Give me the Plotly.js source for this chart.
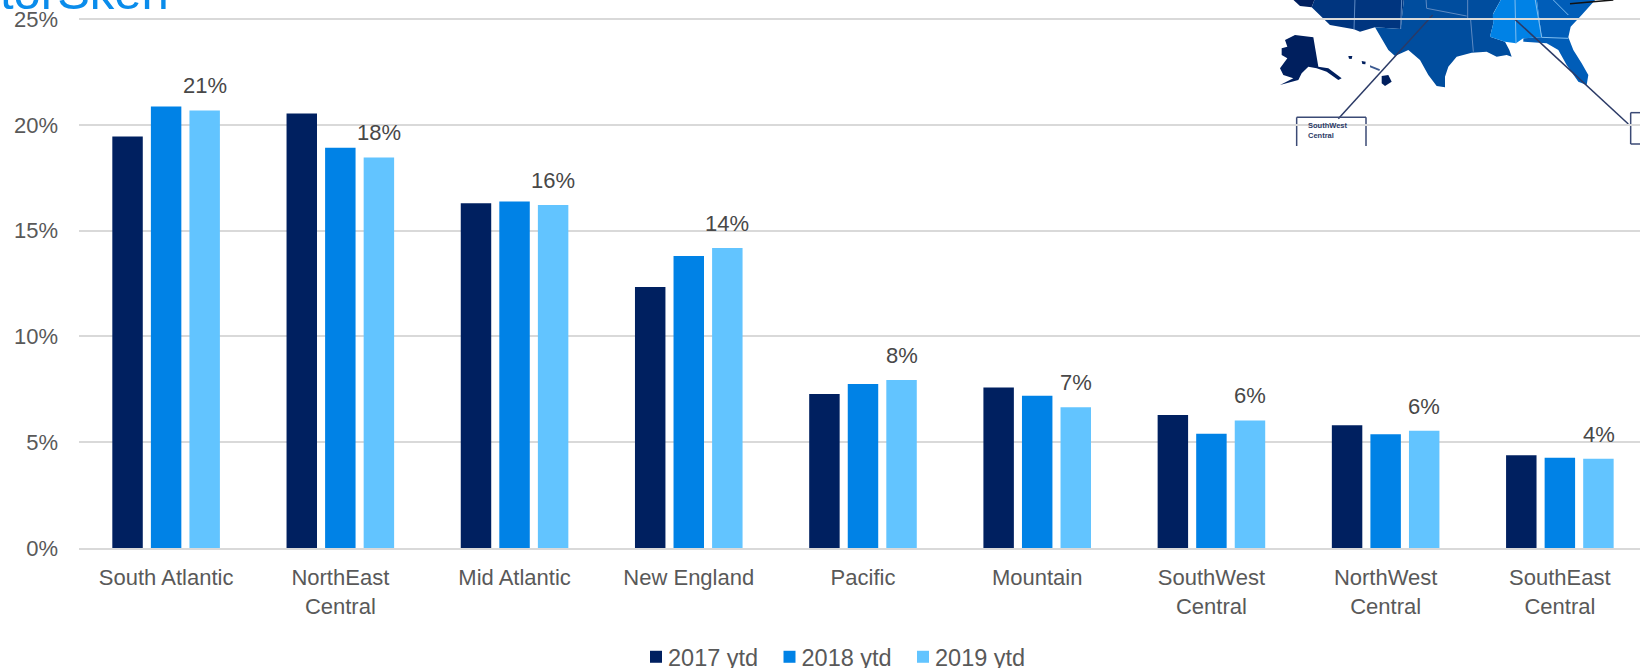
<!DOCTYPE html>
<html><head><meta charset="utf-8">
<script src="https://cdn.plot.ly/plotly-3.0.1.min.js"></script>
<style>html,body{margin:0;padding:0;background:#fff;overflow:hidden}</style></head>
<body><div id="chart" style="width:1640px;height:668px"></div>
<script>
const categories = ["South Atlantic","NorthEast<br>Central","Mid Atlantic","New England","Pacific","Mountain","SouthWest<br>Central","NorthWest<br>Central","SouthEast<br>Central"];
const ytd2017 = [19.45,20.54,16.29,12.33,7.28,7.59,6.29,5.80,4.38];
const ytd2018 = [20.86,18.92,16.38,13.80,7.75,7.20,5.40,5.37,4.27];
const ytd2019 = [20.68,18.46,16.21,14.18,7.94,6.65,6.02,5.54,4.22];
const seriesNames = ["2017 ytd","2018 ytd","2019 ytd"];
const seriesColors = ["#002060","#0082E6","#62C4FF"];
const yTicks = [0,5,10,15,20,25];

const W = 1640, H = 668, L = 79, T = 17, B = 120;
const PW = W - L, PH = H - T - B;
const FONT = "'Liberation Sans', Arial, sans-serif";
const px = x => (x - L) / PW, py = y => 1 - (y - T) / PH;
// Decorative inset map: outline points are in zoom units of the inset crop (origin x=1280, 3x).
const poly = (pts, color) => ({type:"path", xref:"paper", yref:"paper", layer:"below", fillcolor:color, line:{width:0},
  path:"M" + pts.map(p => px(1280 + p[0]/3) + "," + py(p[1]/3)).join("L") + "Z"});
const seg = (a, b, color, w) => ({type:"line", xref:"paper", yref:"paper", layer:"below", line:{color:color, width:w},
  x0:px(1280+a[0]/3), y0:py(a[1]/3), x1:px(1280+b[0]/3), y1:py(b[1]/3)});
const mapShapes = [
  poly([[35,-5],[105,-5],[95,22],[60,18]], "#001F5E"),
  poly([[105,-5],[372,-5],[362,87],[285,82],[240,95],[222,88],[150,75],[95,22]], "#00357F"),
  poly([[372,-5],[665,-5],[640,40],[640,70],[630,110],[675,125],[688,150],[695,170],[680,165],[650,170],[620,155],[575,158],[530,170],[505,200],[495,230],[495,262],[470,258],[445,225],[420,180],[385,150],[345,168],[325,150],[285,82],[362,87]], "#004D9E"),
  poly([[665,-5],[770,-5],[785,112],[730,115],[708,130],[675,125],[630,110],[640,70],[638,45]], "#0082E6"),
  poly([[770,-5],[950,-5],[905,45],[872,80],[865,112],[880,150],[905,190],[925,225],[920,255],[895,245],[860,195],[835,150],[800,130],[730,125],[730,115],[785,112]], "#005DB8"),
  poly([[15,120],[45,105],[100,112],[115,200],[145,205],[185,235],[175,240],[140,215],[110,205],[85,200],[65,220],[55,240],[0,255],[40,235],[10,225],[0,205],[22,175],[5,165],[5,145],[22,140]], "#001F5E"),
  poly([[305,228],[325,225],[335,245],[315,258],[305,250]], "#001F5E"),
  poly([[205,168],[217,168],[215,177],[207,176]], "#001F5E"),
  poly([[245,183],[257,185],[256,193],[247,192]], "#001F5E"),
  poly([[270,196],[300,208],[298,213],[270,202]], "#3C5A90"),
  seg([225,-5],[222,88],"#5E8AC2",1), seg([365,-5],[362,87],"#5E8AC2",1),
  seg([572,60],[580,155],"#5E8AC2",1), seg([438,-5],[440,25],"#5E8AC2",1), seg([440,25],[560,48],"#5E8AC2",1),
  seg([563,-5],[563,55],"#5E8AC2",1), seg([705,-5],[708,130],"#7FBDF0",1), seg([765,-5],[785,112],"#7FBDF0",1),
  seg([785,112],[865,115],"#7FBDF0",1), seg([815,-5],[865,45],"#7FBDF0",1),
  seg([175,356],[458,45],"#2B3A66",1.5), seg([1045,372],[705,58],"#2B3A66",1.5),
  seg([870,11],[1000,0],"#111111",1.5),
  seg([50,352],[258,352],"#3B4A75",1.5), seg([50,352],[50,438],"#3B4A75",1.5), seg([258,352],[258,438],"#3B4A75",1.5),
  seg([1052,338],[1090,338],"#3B4A75",1.5), seg([1052,338],[1052,432],"#3B4A75",1.5), seg([1052,432],[1090,432],"#3B4A75",1.5)
];

const traces = [ytd2017, ytd2018, ytd2019].map((vals, i) => ({
  type:"bar", name:seriesNames[i], x:categories, y:vals,
  marker:{color:seriesColors[i], line:{width:0}}, hoverinfo:"x+y"
}));
const labelAnns = categories.map((c, i) => ({
  x:c, y:ytd2019[i], xref:"x", yref:"y", text:Math.round(ytd2019[i]) + "%", showarrow:false,
  xanchor:"center", yanchor:"middle", xshift:38.7, yshift:24.7,
  font:{family:FONT, size:22, color:"#484848"}
}));
const layout = {
  width:W, height:H, paper_bgcolor:"#fff", plot_bgcolor:"rgba(0,0,0,0)",
  margin:{l:L, r:0, t:T, b:B, pad:0, autoexpand:false}, barmode:"group", bargap:0.336, bargroupgap:0.21,
  font:{family:FONT, size:22, color:"#595959"},
  xaxis:{type:"category", categoryorder:"array", categoryarray:categories, range:[-0.5,8.46],
    showgrid:false, showline:true, linecolor:"#D9D9D9", linewidth:2, ticks:"", ticklabelstandoff:9,
    tickfont:{family:FONT, size:22, color:"#595959"}, zeroline:false, tickangle:0, automargin:false},
  yaxis:{range:[0,25.095], tickvals:yTicks, ticktext:yTicks.map(v => v + "%"), showgrid:true, gridcolor:"#D9D9D9", gridwidth:2,
    zeroline:false, showline:false, ticks:"", ticklabelstandoff:20, tickfont:{family:FONT, size:22, color:"#595959"}, automargin:false},
  showlegend:true,
  legend:{orientation:"h", x:px(628), xanchor:"left", y:py(635), yanchor:"top", entrywidth:88.5, entrywidthmode:"pixels",
    font:{family:FONT, size:23.5, color:"#595959"}, bgcolor:"rgba(0,0,0,0)", itemwidth:30, traceorder:"normal"},
  shapes:mapShapes,
  annotations:labelAnns.concat([
    {xref:"paper", yref:"paper", x:px(-2), y:py(21), xanchor:"left", yanchor:"bottom", text:"torSken", showarrow:false,
     font:{family:FONT, size:49, color:"#0A8CEB"}},
    {xref:"paper", yref:"paper", x:px(1306), y:py(125), xanchor:"left", yanchor:"middle", text:"<b>SouthWest</b>", showarrow:false, font:{family:FONT, size:7.5, color:"#2B3A66"}},
    {xref:"paper", yref:"paper", x:px(1306), y:py(135), xanchor:"left", yanchor:"middle", text:"<b>Central</b>", showarrow:false, font:{family:FONT, size:7.5, color:"#2B3A66"}}
  ])
};
Plotly.newPlot("chart", traces, layout, {displayModeBar:false, staticPlot:true}).then(() => {
  document.querySelectorAll(".legendpoints").forEach(g => g.setAttribute("transform", "translate(8,0)"));
});
</script></body></html>
